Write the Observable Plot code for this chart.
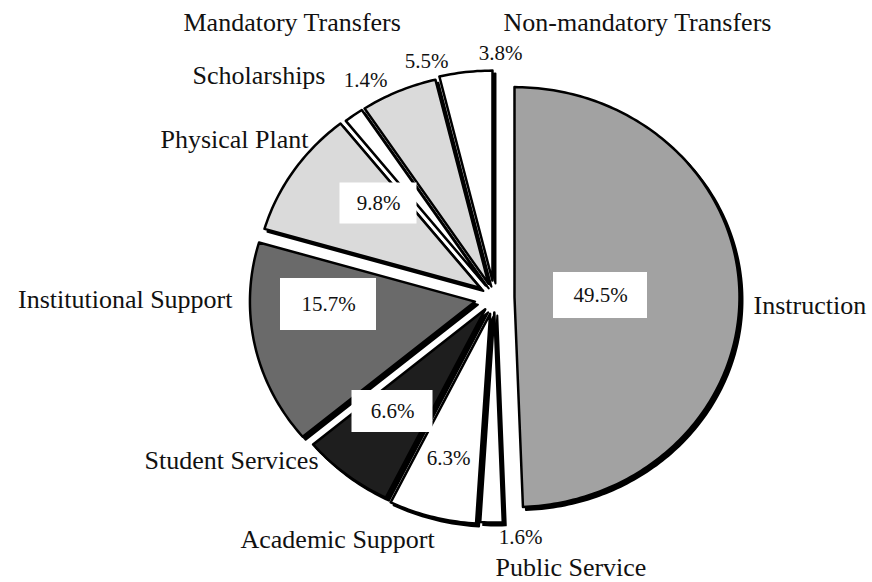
<!DOCTYPE html>
<html><head><meta charset="utf-8">
<script src="https://cdn.jsdelivr.net/npm/d3@7"></script>
<script src="https://cdn.jsdelivr.net/npm/@observablehq/plot@0.6"></script>
<style>body{margin:0;background:#fff}</style>
</head><body><div id="chart"></div>
<script>
// ---- data ----
const categories = ["Instruction","Public Service","Academic Support","Student Services","Institutional Support","Physical Plant","Scholarships","Mandatory Transfers","Non-mandatory Transfers"];
const values = [49.5, 1.6, 6.3, 6.6, 15.7, 9.8, 1.4, 5.5, 3.8];
const percentLabels = ["49.5%","1.6%","6.3%","6.6%","15.7%","9.8%","1.4%","5.5%","3.8%"];

// ---- styles / layout (kept apart from the data) ----
const fills = ["#a2a2a2","#ffffff","#ffffff","#1e1e1e","#6a6a6a","#dadada","#ffffff","#dadada","#ffffff"];
const explode = [20, 15, 17, 15, 20, 17, 15, 15, 17];
const center = {x: 494, y: 297}, rx = 225, ry = 210;
const nameLayout = [
  {x: 753, y: 305, anchor: "start"},
  {x: 495, y: 567, anchor: "start"},
  {x: 240, y: 539, anchor: "start"},
  {x: 318, y: 460, anchor: "end"},
  {x: 232, y: 299, anchor: "end"},
  {x: 308, y: 139, anchor: "end"},
  {x: 325, y: 75, anchor: "end"},
  {x: 183, y: 22, anchor: "start"},
  {x: 503, y: 22, anchor: "start"}
];
const pctLayout = [
  {x: 600, y: 295, box: [94, 46]},
  {x: 520, y: 537},
  {x: 448, y: 458},
  {x: 392, y: 411, box: [81, 42]},
  {x: 328, y: 304, box: [96, 52]},
  {x: 378, y: 203, box: [77, 41]},
  {x: 365, y: 80},
  {x: 426, y: 61},
  {x: 500, y: 53}
];

// ---- geometry from d3.pie ----
const arcs = d3.pie().sort(null).value(d => d)(values);
const polys = [];
arcs.forEach((a, i) => {
  const mid = (a.startAngle + a.endAngle) / 2;
  const ox = center.x + explode[i] * Math.sin(mid);
  const oy = center.y - explode[i] * Math.cos(mid);
  polys.push({id: i, x: ox, y: oy, fill: fills[i]});
  const n = Math.max(4, Math.ceil((a.endAngle - a.startAngle) / (Math.PI / 180)));
  for (let k = 0; k <= n; k++) {
    const t = a.startAngle + (a.endAngle - a.startAngle) * k / n;
    polys.push({id: i, x: ox + rx * Math.sin(t), y: oy - ry * Math.cos(t), fill: fills[i]});
  }
});

const names = categories.map((c, i) => ({text: c, ...nameLayout[i]}));
const pcts = percentLabels.map((p, i) => ({text: p, ...pctLayout[i]}));
const boxes = pcts.filter(d => d.box);

const font = "'Liberation Serif', 'DejaVu Serif', serif";

const plot = Plot.plot({
  width: 872, height: 582,
  margin: 0,
  x: {domain: [0, 872], axis: null},
  y: {domain: [582, 0], axis: null},
  color: {type: "identity"},
  style: {background: "#fff"},
  marks: [
    Plot.line(polys, {x: d => d.x + 3, y: d => d.y + 3, z: "id", fill: "#000", stroke: "#000", strokeWidth: 2, curve: "linear-closed"}),
    Plot.line(polys, {x: "x", y: "y", z: "id", fill: "fill", stroke: "#000", strokeWidth: 2.5, strokeLinejoin: "round", curve: "linear-closed"}),
    Plot.rect(boxes, {x1: d => d.x - d.box[0] / 2, x2: d => d.x + d.box[0] / 2, y1: d => d.y - d.box[1] / 2, y2: d => d.y + d.box[1] / 2, fill: "#fff"}),
    Plot.text(pcts, {x: "x", y: "y", text: "text", fontSize: 21, fontFamily: font, fill: "#111"}),
    Plot.text(names.filter(d => d.anchor === "start"), {x: "x", y: "y", text: "text", textAnchor: "start", fontSize: 26, fontFamily: font, fill: "#111"}),
    Plot.text(names.filter(d => d.anchor === "end"), {x: "x", y: "y", text: "text", textAnchor: "end", fontSize: 26, fontFamily: font, fill: "#111"})
  ]
});
document.getElementById("chart").appendChild(plot);
</script>
</body></html>
